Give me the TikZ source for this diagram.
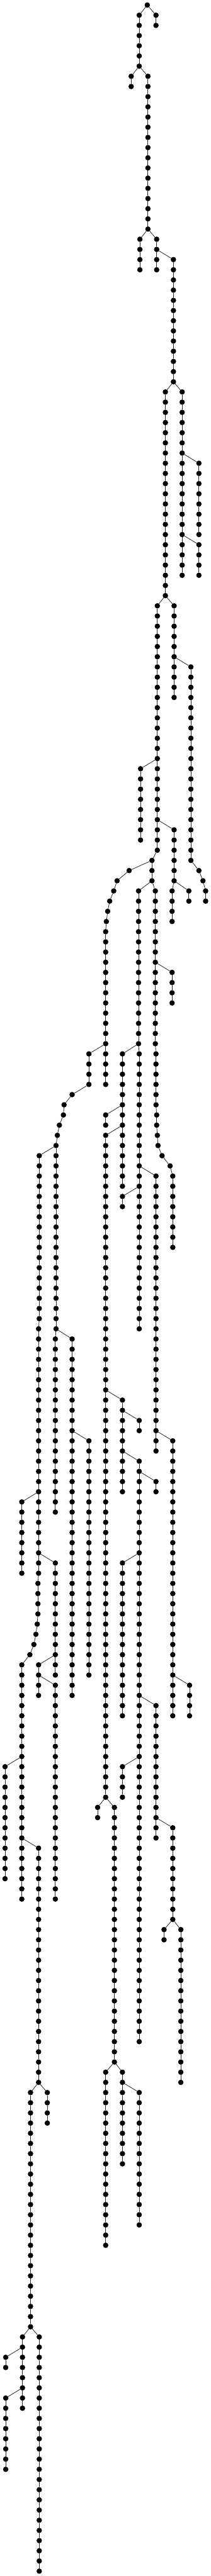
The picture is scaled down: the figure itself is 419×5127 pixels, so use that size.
\documentclass[tikz,border=0pt]{standalone}
\usepackage{tikz}
\tikzset{
  dot/.style={circle,fill=black,draw=none,minimum size=10.7pt,inner sep=0pt,outer sep=0pt},
  edge/.style={draw=black!85,line width=1pt}
}
\newcommand\nd[2]{\node[dot] (n#1-#2) at (#1,#2) {};}
\newcommand\ch[3]{%
  \foreach \r in {#2,...,#3}{\node[dot] (n#1-\r) at (#1,\r) {};}%
  \ifnum#3>#2\relax
    \pgfmathtruncatemacro\chs{#2+1}%
    \foreach \r in {\chs,...,#3}{\pgfmathtruncatemacro\p{\r-1}\draw[edge] (n#1-\p) -- (n#1-\r);}%
  \fi}
\newcommand\lk[2]{\draw[edge] (n#1) -- (n#2);}
\begin{document}
\begin{tikzpicture}[x=0.333333pt,y=-20.267pt]
\useasboundingbox[fill=white] (0pt,10pt) rectangle (419pt,-5117pt);
% nodes
\nd{878}{0}
\ch{930}{1}{2}
\ch{830}{1}{6}
\ch{782}{7}{8}
\ch{882}{7}{22}
\ch{834}{23}{26}
\ch{934}{23}{26}
\ch{1034}{25}{37}
\ch{986}{38}{58}
\ch{1086}{38}{56}
\ch{1186}{45}{52}
\ch{1186}{53}{56}
\ch{938}{59}{83}
\ch{1038}{59}{68}
\ch{1138}{65}{84}
\nd{1186}{85}\nd{1210}{86}\nd{1226}{87}\nd{1226}{88}
\ch{838}{75}{82}
\ch{1038}{81}{86}
\ch{1026}{87}{90}
\ch{1126}{87}{88}
\ch{906}{84}{86}
\nd{770}{85}\nd{698}{86}\nd{678}{87}\nd{654}{88}\nd{642}{89}\nd{634}{90}
\ch{630}{91}{106}
\ch{530}{103}{106}
\nd{430}{107}\nd{382}{108}\nd{378}{109}\nd{354}{110}\nd{342}{111}
\ch{334}{112}{130}
\ch{234}{113}{129}
\ch{230}{130}{154}
\nd{226}{155}\nd{226}{156}\nd{226}{157}\nd{226}{158}\nd{222}{159}\nd{214}{160}\nd{202}{161}\nd{178}{162}
\ch{130}{163}{186}
\ch{130}{147}{154}
\ch{330}{131}{148}
\ch{330}{153}{164}
\ch{230}{163}{166}
\ch{330}{165}{186}
\ch{30}{173}{184}
\ch{230}{181}{204}
\ch{182}{205}{228}
\ch{282}{205}{208}
\ch{134}{229}{236}
\ch{234}{229}{252}
\ch{34}{231}{232}
\ch{34}{235}{242}
\ch{430}{131}{166}
\ch{530}{141}{164}
\ch{826}{87}{102}
\ch{830}{103}{130}
\ch{730}{103}{116}
\ch{630}{109}{110}
\ch{630}{111}{176}
\ch{930}{115}{142}
\ch{730}{117}{118}
\ch{1030}{141}{168}
\ch{1130}{165}{168}
\ch{730}{137}{146}
\ch{830}{139}{140}
\ch{830}{143}{200}
\ch{930}{145}{146}
\ch{730}{153}{168}
\ch{930}{167}{180}
\ch{1030}{179}{188}
\ch{978}{189}{190}
\ch{1078}{189}{204}
\ch{730}{173}{176}
\ch{582}{177}{178}
\ch{682}{177}{202}
\ch{630}{203}{220}
\ch{730}{203}{212}
\ch{830}{205}{218}
\ch{926}{87}{102}
\ch{930}{103}{108}
\nd{934}{109}\nd{934}{110}\nd{938}{111}\nd{942}{112}\nd{966}{113}\nd{1014}{114}
\ch{1030}{115}{122}
\ch{1026}{95}{98}
% links
\lk{878-0}{930-1} \lk{878-0}{830-1}
\lk{830-6}{782-7} \lk{830-6}{882-7}
\lk{882-22}{834-23} \lk{882-22}{934-23}
\lk{934-24}{1034-25}
\lk{1034-37}{986-38} \lk{1034-37}{1086-38}
\lk{1086-44}{1186-45} \lk{1086-52}{1186-53}
\lk{986-58}{938-59} \lk{986-58}{1038-59}
\lk{1038-64}{1138-65}
\lk{1138-84}{1186-85} \lk{1186-85}{1210-86} \lk{1210-86}{1226-87} \lk{1226-87}{1226-88}
\lk{938-74}{838-75} \lk{938-80}{1038-81}
\lk{1038-86}{1026-87} \lk{1038-86}{1126-87}
\lk{938-83}{906-84}
\lk{906-84}{770-85} \lk{770-85}{698-86} \lk{698-86}{678-87} \lk{678-87}{654-88}
\lk{654-88}{642-89} \lk{642-89}{634-90} \lk{634-90}{630-91}
\lk{630-102}{530-103}
\lk{530-106}{430-107} \lk{430-107}{382-108} \lk{382-108}{378-109} \lk{378-109}{354-110}
\lk{354-110}{342-111} \lk{342-111}{334-112}
\lk{334-112}{234-113}
\lk{234-129}{230-130}
\lk{230-154}{226-155} \lk{226-155}{226-156} \lk{226-156}{226-157} \lk{226-157}{226-158}
\lk{226-158}{222-159} \lk{222-159}{214-160} \lk{214-160}{202-161} \lk{202-161}{178-162}
\lk{178-162}{130-163}
\lk{230-146}{130-147}
\lk{334-130}{330-131} \lk{334-130}{430-131}
\lk{230-152}{330-153}
\lk{330-162}{230-163}
\lk{230-164}{330-165}
\lk{130-172}{30-173}
\lk{130-180}{230-181}
\lk{230-204}{182-205} \lk{230-204}{282-205}
\lk{182-228}{134-229} \lk{182-228}{234-229}
\lk{134-230}{34-231} \lk{134-234}{34-235}
\lk{430-140}{530-141}
\lk{906-86}{826-87} \lk{906-86}{926-87}
\lk{826-102}{830-103} \lk{826-102}{730-103}
\lk{730-108}{630-109} \lk{730-110}{630-111}
\lk{830-114}{930-115} \lk{830-116}{730-117}
\lk{930-140}{1030-141} \lk{1030-164}{1130-165}
\lk{630-136}{730-137}
\lk{730-138}{830-139} \lk{730-142}{830-143}
\lk{830-144}{930-145}
\lk{830-152}{730-153}
\lk{830-166}{930-167}
\lk{930-178}{1030-179}
\lk{1030-188}{978-189} \lk{1030-188}{1078-189}
\lk{830-172}{730-173}
\lk{630-176}{582-177} \lk{630-176}{682-177}
\lk{682-202}{630-203} \lk{682-202}{730-203}
\lk{730-204}{830-205}
\lk{926-102}{930-103}
\lk{930-108}{934-109} \lk{934-109}{934-110} \lk{934-110}{938-111} \lk{938-111}{942-112}
\lk{942-112}{966-113} \lk{966-113}{1014-114} \lk{1014-114}{1030-115}
\lk{926-94}{1026-95}
\end{tikzpicture}
\end{document}
